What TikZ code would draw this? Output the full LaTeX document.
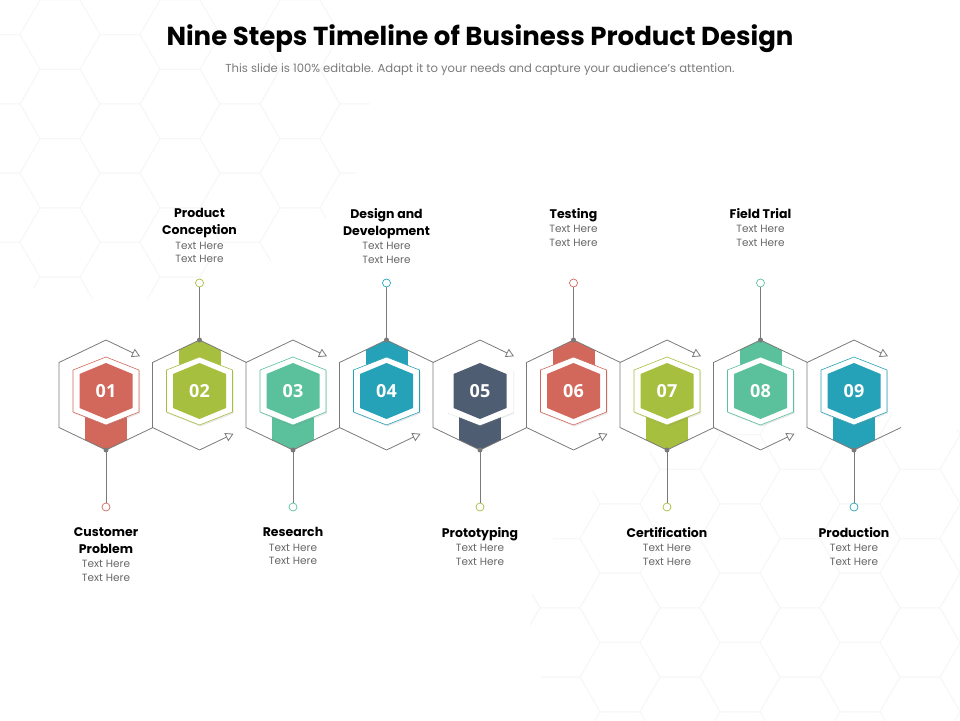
\documentclass[tikz,border=0pt]{standalone}
\usepackage{fontspec}
\setmainfont{Poppins}
\newfontfamily\numfont{Open Sans}
\usetikzlibrary{arrows.meta,positioning,shadows}

\definecolor{stepred}{HTML}{D2685B}
\definecolor{stepgreen}{HTML}{A6BF3E}
\definecolor{stepteal}{HTML}{5BC09C}
\definecolor{stepblue}{HTML}{26A2B8}
\definecolor{stepslate}{HTML}{4F5D72}
\definecolor{linegray}{HTML}{7A7A7A}
\definecolor{notegray}{HTML}{666666}
\definecolor{subgray}{HTML}{7A7A7A}

\tikzset{
  outline/.style={draw=linegray, line width=0.8pt},
  flow/.style={outline, -{Triangle[open, length=8pt, width=9pt]}},
  stem/.style={draw=linegray, line width=0.8pt},
  ring/.style={circle, draw=#1, fill=white, line width=0.7pt, minimum size=8pt, inner sep=0pt},
  steptitle/.style={font=\bfseries\fontsize{12.5}{17}\selectfont, align=center, inner sep=0pt, text depth=3pt},
  stepnote/.style={font=\fontsize{10.5}{13.5}\selectfont, text=notegray, align=center, inner sep=0pt},
  badge/.style={text=white, font=\numfont\bfseries\fontsize{18}{18}\selectfont, inner sep=0pt},
  backhex/.style={black!3, line width=1pt},
}

% pointy-top hexagon: centre x, centre y, half width, half height, half side
\newcommand{\hexat}[5]{({#1},{#2-#4}) -- ({#1+#3},{#2-#5}) -- ({#1+#3},{#2+#5}) -- ({#1},{#2+#4}) -- ({#1-#3},{#2+#5}) -- ({#1-#3},{#2-#5}) -- cycle}

\begin{document}
\begin{tikzpicture}[x=1pt,y=-1pt]
\useasboundingbox (0,0) rectangle (960,720);

% faint background pattern
\begin{scope}
  \clip (120,110) ellipse (250 and 190);
  \foreach \c in {0,...,7}{
    \foreach \r in {0,...,5}{
      \pgfmathsetmacro{\bx}{\c*60}
      \pgfmathsetmacro{\by}{\r*69.28+mod(\c,2)*34.64}
      \draw[backhex] (\bx,\by) +(0:40) -- +(60:40) -- +(120:40) -- +(180:40) -- +(240:40) -- +(300:40) -- cycle;
    }
  }
\end{scope}
\begin{scope}
  \clip (830,620) ellipse (300 and 210);
  \foreach \c in {0,...,8}{
    \foreach \r in {0,...,5}{
      \pgfmathsetmacro{\bx}{500+\c*60}
      \pgfmathsetmacro{\by}{400+\r*69.28+mod(\c,2)*34.64}
      \draw[backhex] (\bx,\by) +(0:40) -- +(60:40) -- +(120:40) -- +(180:40) -- +(240:40) -- +(300:40) -- cycle;
    }
  }
\end{scope}

\node[font=\bfseries\fontsize{26}{26}\selectfont] (title) at (480,39) {Nine Steps Timeline of Business Product Design};
\node[font=\fontsize{11.6}{11.6}\selectfont, text=subgray, below=4pt of title] (sub) {This slide is 100\% editable. Adapt it to your needs and capture your audience's attention.};

\foreach \i/\lab/\col/\rim/\ringcol in {
  1/Customer\\Problem/stepred/stepred/stepred,
  2/Product\\Conception/stepgreen/stepgreen/stepgreen,
  3/Research/stepteal/stepteal/stepteal,
  4/Design and\\Development/stepblue/stepblue/stepblue,
  5/Prototyping/stepslate/white/stepgreen,
  6/Testing/stepred/stepred/stepred,
  7/Certification/stepgreen/stepgreen/stepgreen,
  8/Field Trial/stepteal/stepteal/stepteal,
  9/Production/stepblue/stepblue/stepblue}{
  \pgfmathsetmacro{\cx}{106+93.5*(\i-1)}
  \coordinate (top\i) at (\cx,340);
  \coordinate (bot\i) at (\cx,450);
  \coordinate (ul\i) at (\cx-47,362.5);
  \coordinate (ll\i) at (\cx-47,427.5);
  \coordinate (ur\i) at (\cx+47,362.5);
  \coordinate (lr\i) at (\cx+47,427.5);
  % coloured tab behind the badge
  \begin{scope}
    \clip \hexat{\cx}{395}{47}{55}{32.5};
    \ifodd\i\relax
      \fill[\col] (\cx-21,391) rectangle (\cx+21,452);
    \else
      \fill[\col] (\cx-21,338) rectangle (\cx+21,391);
    \fi
  \end{scope}
  % big outline
  \draw[outline] (top\i) -- (ul\i) -- (ll\i) -- (bot\i);
  \ifodd\i\relax
    \coordinate (arr\i) at (\cx+34,356.3);
    \draw[outline] (bot\i) -- (lr\i);
    \draw[flow] (top\i) -- (arr\i);
  \else
    \coordinate (arr\i) at (\cx+34,433.7);
    \draw[outline] (top\i) -- (ur\i);
    \draw[flow] (bot\i) -- (arr\i);
  \fi
  % badge
  \fill[white, drop shadow={opacity=0.18, shadow xshift=1pt, shadow yshift=-1.5pt}] \hexat{\cx}{391}{33}{34}{21};
  \draw[\rim, line width=0.6pt] \hexat{\cx}{391}{33}{34}{21};
  \fill[\col] \hexat{\cx}{391}{26.5}{28}{17};
  \node[badge] (n\i) at (\cx,391) {0\i};
  % stem and label
  \ifodd\i\relax
    \node[ring=\ringcol] (r\i) at (\cx,507) {};
    \draw[stem] (bot\i) -- (r\i);
    \fill[linegray] (bot\i) circle (2.5);
    \node[steptitle, anchor=north] (t\i) at (\cx,527) {\lab};
  \else
    \node[ring=\ringcol] (r\i) at (\cx,283) {};
    \draw[stem] (top\i) -- (r\i);
    \fill[linegray] (top\i) circle (2.5);
    \node[steptitle, anchor=north] (t\i) at (\cx,208) {\lab};
  \fi
  \node[stepnote, below=4pt of t\i] (d\i) {Text Here\\Text Here};
}
\end{tikzpicture}
\end{document}
